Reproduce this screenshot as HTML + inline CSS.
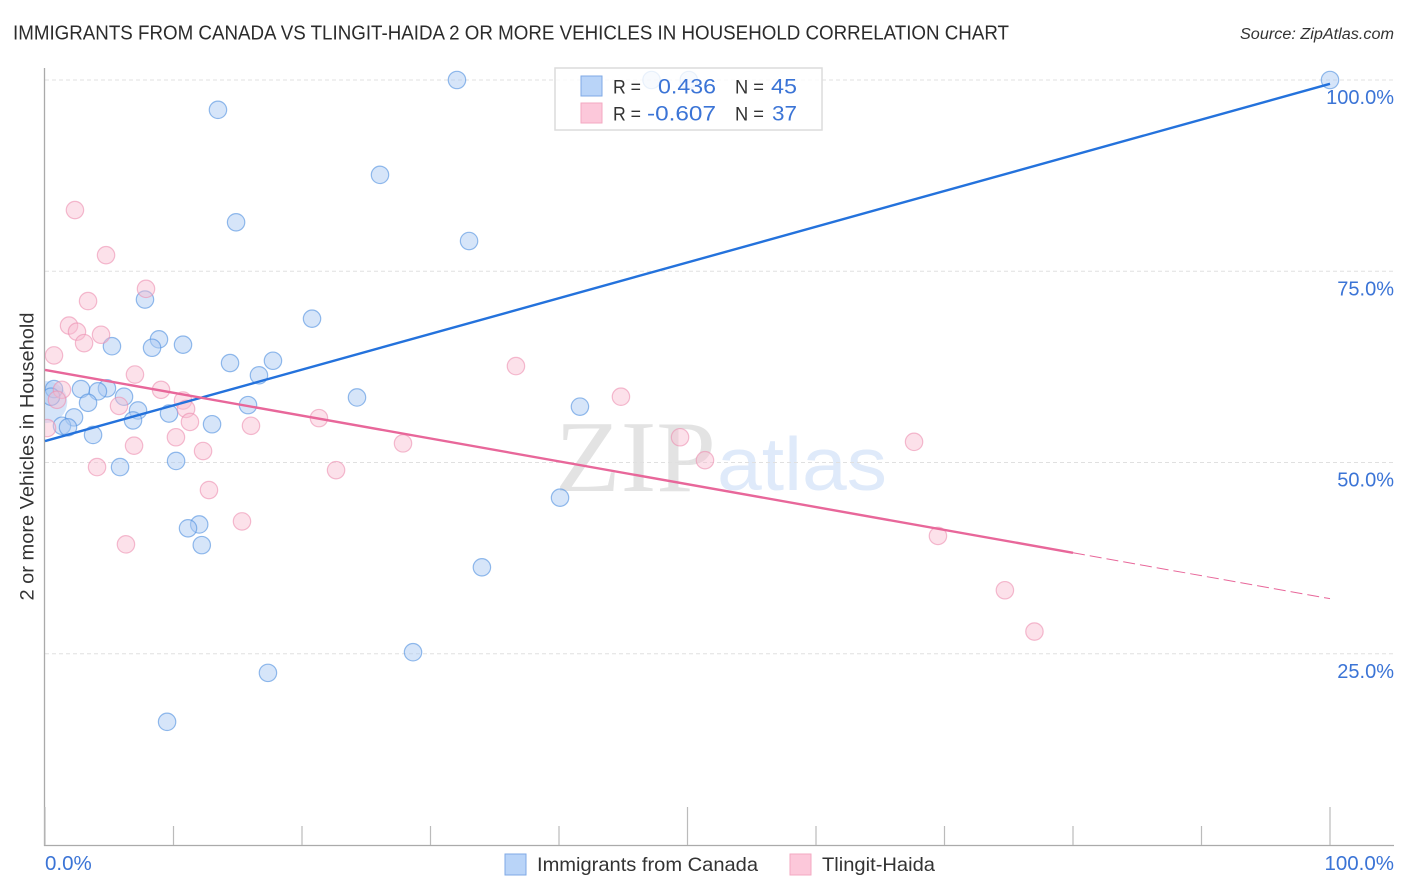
<!DOCTYPE html>
<html lang="en">
<head>
<meta charset="utf-8">
<title>Immigrants from Canada vs Tlingit-Haida 2 or more Vehicles in Household Correlation Chart</title>
<style>
html,body{margin:0;padding:0;background:#fff;width:1406px;height:892px;overflow:hidden}
svg{display:block;font-family:"Liberation Sans",sans-serif}
</style>
</head>
<body>
<svg id="chart" xmlns="http://www.w3.org/2000/svg" width="1406" height="892" viewBox="0 0 1406 892">
  <defs><clipPath id="plot-clip"><rect x="45" y="60" width="1349" height="785"/></clipPath></defs>
  <rect width="1406" height="892" fill="#fff"/>
  <text x="13" y="39.5" font-size="20" fill="#2b2b2b" textLength="996" lengthAdjust="spacingAndGlyphs">IMMIGRANTS FROM CANADA VS TLINGIT-HAIDA 2 OR MORE VEHICLES IN HOUSEHOLD CORRELATION CHART</text>
  <text x="1394" y="39" font-size="15.5" font-style="italic" fill="#333" text-anchor="end" textLength="154" lengthAdjust="spacingAndGlyphs">Source: ZipAtlas.com</text>
  <text transform="translate(33.5,456.5) rotate(-90)" font-size="19.5" fill="#333" text-anchor="middle" textLength="288" lengthAdjust="spacingAndGlyphs">2 or more Vehicles in Household</text>
  <g>
    <text x="555" y="491" font-family="'Liberation Serif',serif" font-size="102" fill="#e3e3e3" textLength="161" lengthAdjust="spacingAndGlyphs">ZIP</text>
    <text x="717" y="490" font-size="75" fill="#dfeafa" textLength="170" lengthAdjust="spacingAndGlyphs">atlas</text>
  </g>
  <g id="grid"></g>
  <g id="axes"></g>
  <g id="blue-points" clip-path="url(#plot-clip)"></g>
  <g id="pink-points" clip-path="url(#plot-clip)"></g>
  <g id="trends"></g>
  <g>
    <rect x="555" y="68" width="267" height="62" fill="#fff" fill-opacity="0.8" stroke="#dcdcdc" stroke-width="1.5"/>
    <rect x="581" y="76" width="21" height="20" fill="#b9d4f8" stroke="#7fa9e6" stroke-width="1"/>
    <rect x="581" y="103" width="21" height="20" fill="#fcc8da" stroke="#f3a9c2" stroke-width="1"/>
    <text x="613" y="93.5" font-size="19.5" fill="#333" textLength="28" lengthAdjust="spacingAndGlyphs">R =</text>
    <text x="613" y="120.5" font-size="19.5" fill="#333" textLength="28" lengthAdjust="spacingAndGlyphs">R =</text>
    <text x="658" y="93.5" font-size="21.5" fill="#3b74d6" textLength="58" lengthAdjust="spacingAndGlyphs">0.436</text>
    <text x="647" y="120.5" font-size="21.5" fill="#3b74d6" textLength="69" lengthAdjust="spacingAndGlyphs">-0.607</text>
    <text x="735" y="93.5" font-size="19.5" fill="#333" textLength="29" lengthAdjust="spacingAndGlyphs">N =</text>
    <text x="735" y="120.5" font-size="19.5" fill="#333" textLength="29" lengthAdjust="spacingAndGlyphs">N =</text>
    <text x="771" y="93.5" font-size="21.5" fill="#3b74d6" textLength="26" lengthAdjust="spacingAndGlyphs">45</text>
    <text x="772" y="120.5" font-size="21.5" fill="#3b74d6" textLength="25" lengthAdjust="spacingAndGlyphs">37</text>
  </g>
  <g>
    <rect x="505" y="854" width="21" height="21" fill="#b9d4f8" stroke="#7fa9e6" stroke-width="1"/>
    <text x="537" y="871" font-size="19.5" fill="#333" textLength="221" lengthAdjust="spacingAndGlyphs">Immigrants from Canada</text>
    <rect x="790" y="854" width="21" height="21" fill="#fcc8da" stroke="#f3a9c2" stroke-width="1"/>
    <text x="822" y="871" font-size="19.5" fill="#333" textLength="113" lengthAdjust="spacingAndGlyphs">Tlingit-Haida</text>
  </g>
</svg>
<script>
const yTickValues = [100, 75, 50, 25];
const yTickLabels = ["100.0%", "75.0%", "50.0%", "25.0%"];
const xTickValues = [0, 10, 20, 30, 40, 50, 60, 70, 80, 90, 100];
const xMajorTicks = [0, 50, 100];
const xEdgeValues = [0, 100];
const xEdgeLabels = ["0.0%", "100.0%"];
const canadaX = [32.06,47.2,50.1,100,13.46,26.07,14.87,33.0,7.78,20.78,8.87,8.33,10.74,5.21,14.4,17.74,16.65,0.7,2.8,4.82,4.12,6.15,0.47,3.35,7.24,15.8,24.28,41.63,6.85,9.65,2.26,13.0,1.32,1.79,3.74,5.84,10.2,40.08,12.0,11.13,12.2,34.0,28.64,17.35,9.5];
const canadaY = [100,100,100,100,96.1,87.6,81.4,78.95,71.3,68.8,66.1,65.0,65.4,65.2,63.0,63.3,61.4,59.6,59.6,59.7,59.3,58.6,58.6,57.8,56.8,57.5,58.5,57.3,55.5,56.4,55.9,55.0,54.8,54.6,53.6,49.4,50.2,45.4,41.9,41.4,39.2,36.3,25.2,22.5,16.1];
const canadaSizes = [1,1,1,1,1,1,1,1,1,1,1,1,1,1,1,1,1,1,1,1,1,1,1,1,1,1,1,1,1,1,1,1,1,1,1,1,1,1,1,1,1,1,1,1,1];
const tlingitX = [2.33,4.75,7.86,3.35,1.87,2.49,3.04,4.36,0.7,36.65,7.0,9.03,1.32,0.93,10.74,5.76,10.98,11.28,21.32,16.03,10.19,6.93,12.3,27.86,49.42,44.82,51.36,67.63,4.05,22.65,12.76,15.33,6.3,69.49,74.7,77.0,0.16];
const tlingitY = [83.0,77.1,72.7,71.1,67.9,67.1,65.6,66.7,64.0,62.6,61.5,59.5,59.5,58.2,58.1,57.4,57.0,55.3,55.8,54.8,53.3,52.2,51.5,52.5,53.3,58.6,50.3,52.7,49.4,49.0,46.4,42.3,39.3,40.4,33.3,27.9,54.5];
const canadaTrendX = [0, 100];
const canadaTrendY = [52.8, 99.5];
const tlingitTrendX = [0, 80];
const tlingitTrendY = [62.1, 38.2];
const tlingitDashX = [80, 100];
const tlingitDashY = [38.2, 32.2];
const bigCanadaX = [0.1];
const bigCanadaY = [57.9];

const NS = 'http://www.w3.org/2000/svg';
function sx(v){ return 45 + v * 12.85; }
function sy(v){ return 845 - v * 7.65; }
function make(tag, parent, props){
  const el = document.createElementNS(NS, tag);
  for (const k in props) el.setAttribute(k, props[k]);
  parent.appendChild(el);
  return el;
}
const grid = document.getElementById('grid');
const axes = document.getElementById('axes');
yTickValues.forEach(function(v, i){
  const g = make('line', grid, {x1:45, x2:1394, y1:sy(v), y2:sy(v), stroke:'#e0e0e0', 'stroke-width':1, 'stroke-dasharray':'4 3'});
  
  
  const t = make('text', axes, {x:1394, y:sy(v)+24, 'font-size':20, fill:'#3b74d6', 'text-anchor':'end'});
  t.textContent = yTickLabels[i];
  
  
});
const yAxis = make('line', axes, {x1:44.5, x2:44.5, y1:68, y2:846, stroke:'#aaa', 'stroke-width':1.3});


const xAxis = make('line', axes, {x1:44, x2:1394, y1:845.5, y2:845.5, stroke:'#aaa', 'stroke-width':1.3});


xTickValues.forEach(function(v){
  const top = xMajorTicks.indexOf(v) >= 0 ? 807 : 826;
  const tk = make('line', axes, {x1:sx(v), x2:sx(v), y1:top, y2:845, stroke:'#bbb', 'stroke-width':1.2});
  
  
});
xEdgeValues.forEach(function(v, i){
  const t = make('text', axes, {x: i === 0 ? 45 : 1394, y:870, 'font-size':20.5, fill:'#3b74d6', 'text-anchor': i === 0 ? 'start' : 'end'});
  t.textContent = xEdgeLabels[i];
  
  
});
const bluePts = document.getElementById('blue-points');
const pinkPts = document.getElementById('pink-points');
bigCanadaX.forEach(function(v, i){
  const c = make('circle', bluePts, {cx:sx(v), cy:sy(bigCanadaY[i]), r:21, fill:'#a9c9f3', 'fill-opacity':0.5, stroke:'none'});
  
  
});
canadaX.forEach(function(v, i){
  const c = make('circle', bluePts, {cx:sx(v), cy:sy(canadaY[i]), r:8.7*canadaSizes[i], fill:'#a9c9f3', 'fill-opacity':0.48, stroke:'#4f8fe0', 'stroke-opacity':0.6, 'stroke-width':1.2});
  
  
});
tlingitX.forEach(function(v, i){
  const c = make('circle', pinkPts, {cx:sx(v), cy:sy(tlingitY[i]), r:8.7, fill:'#f9bcd0', 'fill-opacity':0.45, stroke:'#ec8fb0', 'stroke-opacity':0.6, 'stroke-width':1.2});
  
  
});
const trends = document.getElementById('trends');
const bl = make('line', trends, {x1:sx(canadaTrendX[0]), y1:sy(canadaTrendY[0]), x2:sx(canadaTrendX[1]), y2:sy(canadaTrendY[1]), stroke:'#2472dc', 'stroke-width':2.4});


const pl = make('line', trends, {x1:sx(tlingitTrendX[0]), y1:sy(tlingitTrendY[0]), x2:sx(tlingitTrendX[1]), y2:sy(tlingitTrendY[1]), stroke:'#e8679a', 'stroke-width':2.4});


const pd = make('line', trends, {x1:sx(tlingitDashX[0]), y1:sy(tlingitDashY[0]), x2:sx(tlingitDashX[1]), y2:sy(tlingitDashY[1]), stroke:'#e8679a', 'stroke-width':1, 'stroke-dasharray':'12 5'});


</script>
</body>
</html>
